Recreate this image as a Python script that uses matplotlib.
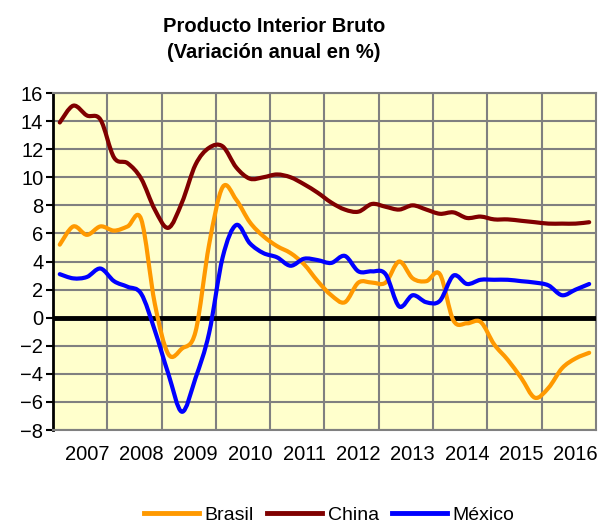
import matplotlib
matplotlib.use("Agg")
from matplotlib import pyplot as plt
from matplotlib.path import Path
from matplotlib.patches import PathPatch
from matplotlib.lines import Line2D

plt.rcParams['font.family'] = ['Liberation Sans', 'DejaVu Sans']

# quarterly data, 2007Q1 - 2016Q4 (annual % change)
years = ["2007", "2008", "2009", "2010", "2011", "2012", "2013", "2014", "2015", "2016"]
brasil = [5.2, 6.5, 5.9, 6.5, 6.2, 6.5, 7.0, 1.0, -2.6, -2.2,
          -1.0, 5.2, 9.3, 8.4, 6.8, 5.8, 5.1, 4.6, 3.8, 2.6,
          1.6, 1.1, 2.5, 2.5, 2.5, 4.0, 2.8, 2.6, 3.1, -0.2,
          -0.4, -0.3, -1.9, -3.0, -4.3, -5.7, -5.0, -3.6, -2.9, -2.5]
china = [13.9, 15.1, 14.4, 14.1, 11.4, 11.0, 9.9, 7.7, 6.4, 8.2,
         10.9, 12.1, 12.2, 10.7, 9.9, 10.0, 10.2, 10.0, 9.5, 8.9,
         8.2, 7.7, 7.55, 8.1, 7.9, 7.7, 8.0, 7.7, 7.4, 7.5,
         7.1, 7.2, 7.0, 7.0, 6.9, 6.8, 6.7, 6.7, 6.7, 6.8]
mexico = [3.1, 2.8, 2.9, 3.5, 2.6, 2.2, 1.7, -0.9, -4.0, -6.7,
          -4.3, -1.1, 4.3, 6.6, 5.3, 4.6, 4.3, 3.7, 4.2, 4.1,
          3.9, 4.4, 3.3, 3.3, 3.1, 0.8, 1.6, 1.1, 1.2, 3.0,
          2.4, 2.7, 2.7, 2.7, 2.6, 2.5, 2.3, 1.6, 2.0, 2.4]


def smooth_path(xs, ys):
    # bezier segments through the points (like excel "smoothed line")
    pts = list(zip(xs, ys))
    n = len(pts)
    verts = [pts[0]]
    codes = [Path.MOVETO]
    for i in range(n - 1):
        p0 = pts[i - 1] if i > 0 else pts[i]
        p1 = pts[i]
        p2 = pts[i + 1]
        p3 = pts[i + 2] if i + 2 < n else pts[i + 1]
        c1 = (p1[0] + (p2[0] - p0[0]) / 6, p1[1] + (p2[1] - p0[1]) / 6)
        c2 = (p2[0] - (p3[0] - p1[0]) / 6, p2[1] - (p3[1] - p1[1]) / 6)
        verts += [c1, c2, p2]
        codes += [Path.CURVE4] * 3
    return Path(verts, codes)


fig = plt.figure(figsize=(6.02, 5.27), dpi=100)
ax = fig.add_axes([0.088, 0.184, 0.902, 0.6395])
ax.set_facecolor("#FFFFCC")

x = list(range(len(brasil)))
series = [("Brasil", brasil, "#FF9900"), ("China", china, "#800000"), ("México", mexico, "#0000FF")]
handles = []
for name, vals, col in series:
    patch = PathPatch(smooth_path(x, vals), facecolor="none", edgecolor=col,
                      lw=3, capstyle="round", joinstyle="round", zorder=4)
    ax.add_patch(patch)
    handles.append(Line2D([], [], color=col, lw=3.5, label=name))

ax.axhline(0, color="black", lw=3.5, zorder=3)

ax.set_xlim(-0.5, len(brasil) - 0.5)
ax.set_ylim(-8, 16)
ax.set_yticks(range(-8, 17, 2))
ax.set_xticks([4 * k + 2 for k in range(len(years))])
ax.set_xticklabels(years)
ax.set_xticks([4 * k + 3.5 for k in range(len(years) - 1)], minor=True)
ax.grid(True, which="major", axis="y", color="#808080", lw=1.5, zorder=1)
ax.grid(True, which="minor", axis="x", color="#808080", lw=1.5, zorder=1)
ax.tick_params(axis="x", which="both", length=0, pad=11, labelsize=14.5)
ax.tick_params(axis="y", length=5, width=1.5, pad=2, labelsize=14.5)

for side in ["top", "right", "bottom"]:
    ax.spines[side].set_color("#808080")
    ax.spines[side].set_linewidth(1.5)
ax.spines["left"].set_color("black")
ax.spines["left"].set_linewidth(2)

fig.text(0.455, 1 - 27 / 527, "Producto Interior Bruto", ha="center", va="center",
         fontsize=14.5, fontweight="bold")
fig.text(0.455, 1 - 53 / 527, "(Variación anual en %)", ha="center", va="center",
         fontsize=14.5, fontweight="bold")

fig.legend(handles=handles, loc="center", bbox_to_anchor=(0.547, 0.022), ncol=3,
           frameon=False, fontsize=14, handlelength=2.8, handletextpad=0.3,
           columnspacing=0.7, borderaxespad=0)

fig.savefig("out.png", dpi=100)
